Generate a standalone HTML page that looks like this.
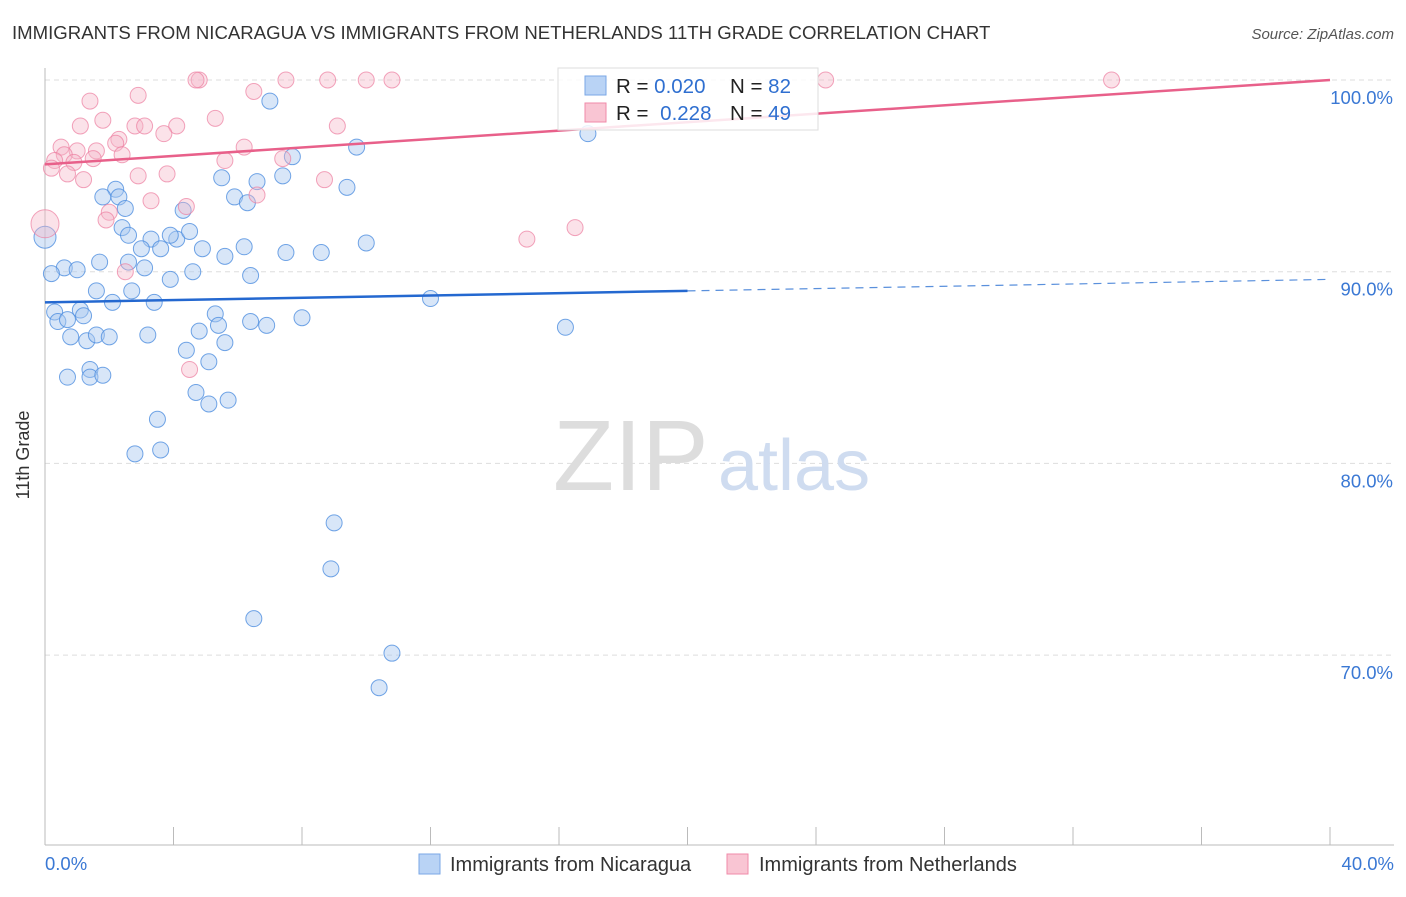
<!DOCTYPE html>
<html><head><meta charset="utf-8"><style>
body{margin:0;background:#fff;font-family:"Liberation Sans",sans-serif;}
svg text{font-family:"Liberation Sans",sans-serif;}
</style></head><body>
<svg id="chart" width="1406" height="892">
<text x="12" y="39" font-size="18.6" fill="#333">IMMIGRANTS FROM NICARAGUA VS IMMIGRANTS FROM NETHERLANDS 11TH GRADE CORRELATION CHART</text>
<text x="1394" y="39" font-size="15" fill="#555" text-anchor="end" font-style="italic">Source: ZipAtlas.com</text>
<text x="29" y="455" font-size="18" fill="#333" text-anchor="middle" transform="rotate(-90 29 455)">11th Grade</text>
<g id="grid"></g>
<g id="wm"><text x="553" y="490" font-size="100" fill="#ddd" font-family="Liberation Serif,serif">ZIP</text><text x="718" y="490" font-size="72" fill="#cfdcf0">atlas</text></g>
<line x1="45" y1="68" x2="45" y2="845" stroke="#bbb"/>
<line x1="45" y1="845" x2="1394" y2="845" stroke="#bbb"/>
<g id="ticks"></g>
<g id="pts"></g>
<g id="lines"></g>
<g>
<rect x="558" y="68" width="260" height="62" fill="#fff" fill-opacity="0.85" stroke="#ddd"/>
<rect x="585" y="76" width="21" height="19" fill="#b9d3f5" stroke="#7aa7e6"/>
<rect x="585" y="103" width="21" height="19" fill="#f9c5d3" stroke="#f08aa8"/>
<text x="616" y="93" font-size="20.5" fill="#222">R = <tspan fill="#2f6fd0">0.020</tspan></text>
<text x="730" y="93" font-size="20.5" fill="#222">N = <tspan fill="#2f6fd0">82</tspan></text>
<text x="616" y="120" font-size="20.5" fill="#222">R = <tspan fill="#2f6fd0" dx="6">0.228</tspan></text>
<text x="730" y="120" font-size="20.5" fill="#222">N = <tspan fill="#2f6fd0">49</tspan></text>
</g>
<g>
<rect x="419" y="854" width="21" height="20" fill="#b9d3f5" stroke="#7aa7e6"/>
<text x="450" y="871" font-size="20" fill="#333">Immigrants from Nicaragua</text>
<rect x="727" y="854" width="21" height="20" fill="#f9c5d3" stroke="#f08aa8"/>
<text x="759" y="871" font-size="20" fill="#333">Immigrants from Netherlands</text>
</g>
</svg>
<script>
const xTickLabels=["0.0%","40.0%"];
const yTicks=[100,90,80,70];
const blueX=[7.0,16.9,9.7,7.7,2.2,5.5,6.6,7.4,9.4,1.8,2.3,2.5,5.9,6.3,4.3,2.4,2.6,3.3,4.1,3.9,4.5,0.0,3.0,3.6,4.9,6.2,7.5,8.6,10.0,5.6,1.7,2.6,0.6,1.0,3.1,0.2,4.6,6.4,3.9,2.7,1.6,2.1,3.4,12.0,0.3,1.1,0.4,0.7,1.2,5.3,6.4,5.4,6.9,8.0,16.2,4.8,3.2,0.8,1.3,1.6,2.0,5.6,4.4,5.1,1.4,0.7,1.4,1.8,4.7,5.1,5.7,3.5,2.8,3.6,9.0,8.9,6.5,10.8,10.4];
const blueY=[98.9,97.2,96.5,96.0,94.3,94.9,94.7,95.0,94.4,93.9,93.9,93.3,93.9,93.6,93.2,92.3,91.9,91.7,91.7,91.9,92.1,91.8,91.2,91.2,91.2,91.3,91.0,91.0,91.5,90.8,90.5,90.5,90.2,90.1,90.2,89.9,90.0,89.8,89.6,89.0,89.0,88.4,88.4,88.6,87.9,88.0,87.4,87.5,87.7,87.8,87.4,87.2,87.2,87.6,87.1,86.9,86.7,86.6,86.4,86.7,86.6,86.3,85.9,85.3,84.9,84.5,84.5,84.6,83.7,83.1,83.3,82.3,80.5,80.7,76.9,74.5,71.9,70.1,68.3];
const pinkX=[4.8,4.7,7.5,8.8,10.0,10.8,24.3,33.2,6.5,2.9,1.4,5.3,1.8,9.1,1.1,2.8,3.1,4.1,3.7,2.3,6.2,0.5,1.0,1.6,2.2,0.6,0.3,0.9,2.4,1.5,5.6,7.4,0.2,0.7,1.2,2.9,3.8,8.7,6.6,3.3,4.4,2.0,1.9,2.5,15.0,16.5,4.5,0.0];
const pinkY=[100,100,100,100,100,100,100,100,99.4,99.2,98.9,98.0,97.9,97.6,97.6,97.6,97.6,97.6,97.2,96.9,96.5,96.5,96.3,96.3,96.7,96.1,95.8,95.7,96.1,95.9,95.8,95.9,95.4,95.1,94.8,95.0,95.1,94.8,94.0,93.7,93.4,93.1,92.7,90.0,91.7,92.3,84.9,92.5];
const blueLine=[88.4,89.0,89.6];
const pinkLine=[95.6,100];
const NS="http://www.w3.org/2000/svg";
const X=v=>45+v/40*1285, Y=v=>80+(100-v)*19.17;
function mk(p,t,a){const e=document.createElementNS(NS,t);for(const k in a)e.setAttribute(k,a[k]);p.appendChild(e);return e;}
const grid=document.getElementById('grid'),ticks=document.getElementById('ticks'),svg=document.getElementById('chart');
yTicks.forEach(v=>{
 const l=mk(grid,'line',{x1:45,x2:1394,y1:Y(v),y2:Y(v),stroke:'#ddd','stroke-dasharray':'5,4'});
 
 
 const t=mk(svg,'text',{x:1393,y:Y(v)+24,'font-size':18.5,fill:'#3a78d4','text-anchor':'end'});t.textContent=v.toFixed(1)+'%';
 
 
});
for(let i=0;i<=10;i++){const l=mk(ticks,'line',{x1:X(i*4),x2:X(i*4),y1:827,y2:845,stroke:'#bbb'});
 
 }
[[0,45,'start'],[1,1394,'end']].forEach(([i,x,a])=>{const t=mk(svg,'text',{x:x,y:870,'font-size':18.5,fill:'#3a78d4','text-anchor':a});t.textContent=xTickLabels[i];
 
 });
const pts=document.getElementById('pts');


blueX.forEach((x,i)=>{const c=mk(pts,'circle',{cx:X(x),cy:Y(blueY[i]),r:i==21?11:8,fill:'#a9c8f0','fill-opacity':0.45,stroke:'#4f8ee0','stroke-opacity':0.8});
 
 });
pinkX.forEach((x,i)=>{const c=mk(pts,'circle',{cx:X(x),cy:Y(pinkY[i]),r:i==47?14:8,fill:'#f6b6c9','fill-opacity':0.4,stroke:'#ec7d9f','stroke-opacity':0.7});
 
 });
const lines=document.getElementById('lines');
let l1=mk(lines,'line',{x1:X(0),y1:Y(blueLine[0]),x2:X(20),y2:Y(blueLine[1]),stroke:'#2468d0','stroke-width':2.5});


let l2=mk(lines,'line',{x1:X(20),y1:Y(blueLine[1]),x2:X(40),y2:Y(blueLine[2]),stroke:'#5a90dc','stroke-width':1.2,'stroke-dasharray':'8,6'});


let l3=mk(lines,'line',{x1:X(0),y1:Y(pinkLine[0]),x2:X(40),y2:Y(pinkLine[1]),stroke:'#e8608a','stroke-width':2.5});


</script>
</body></html>
